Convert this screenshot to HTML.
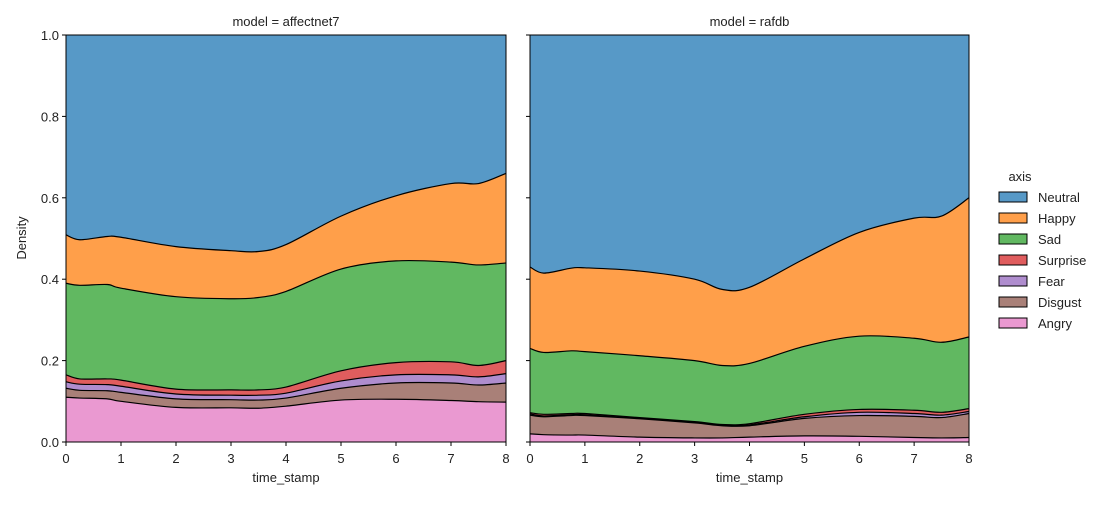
<!DOCTYPE html>
<html><head><meta charset="utf-8"><style>
body{margin:0;background:#fff;}
svg text{font-family:"Liberation Sans","DejaVu Sans",sans-serif;fill:#222;}
</style></head><body>
<svg id="fig" width="1107" height="500" xmlns="http://www.w3.org/2000/svg"></svg>
<script>
const categories=["Angry","Disgust","Fear","Surprise","Sad","Happy","Neutral"];
const xs=[0,0.25,0.75,1,2,3,3.5,4,5,6,7,7.5,8];
// upper edges of stacked layers (cumulative share) — affectnet7
const aAngry   =[0.110,0.108,0.106,0.100,0.085,0.084,0.083,0.088,0.103,0.105,0.102,0.099,0.098];
const aDisgust =[0.132,0.127,0.126,0.122,0.106,0.104,0.103,0.108,0.132,0.145,0.145,0.140,0.145];
const aFear    =[0.148,0.142,0.141,0.137,0.118,0.115,0.115,0.120,0.150,0.165,0.165,0.160,0.168];
const aSurprise=[0.165,0.155,0.155,0.152,0.130,0.128,0.128,0.135,0.175,0.195,0.197,0.188,0.200];
const aSad     =[0.390,0.385,0.387,0.378,0.357,0.352,0.355,0.370,0.425,0.445,0.442,0.435,0.440];
const aHappy   =[0.509,0.497,0.505,0.503,0.480,0.470,0.468,0.485,0.555,0.605,0.635,0.635,0.660];
// rafdb
const rAngry   =[0.020,0.018,0.017,0.017,0.012,0.010,0.010,0.012,0.015,0.014,0.011,0.010,0.011];
const rDisgust =[0.066,0.062,0.065,0.065,0.057,0.047,0.040,0.040,0.058,0.065,0.063,0.060,0.070];
const rFear    =[0.069,0.064,0.067,0.067,0.058,0.048,0.041,0.042,0.062,0.073,0.070,0.066,0.075];
const rSurprise=[0.072,0.068,0.070,0.070,0.060,0.050,0.043,0.045,0.068,0.080,0.078,0.073,0.082];
const rSad     =[0.230,0.220,0.224,0.222,0.212,0.200,0.188,0.193,0.235,0.260,0.255,0.245,0.258];
const rHappy   =[0.430,0.415,0.427,0.428,0.420,0.400,0.375,0.380,0.450,0.515,0.550,0.555,0.600];
const xTicks=[0,1,2,3,4,5,6,7,8];
const yTicks=[0,0.2,0.4,0.6,0.8,1.0];
const colors={Neutral:"#5799c7",Happy:"#ff9f4a",Sad:"#61b861",Surprise:"#e05d5e",Fear:"#af8dce",Disgust:"#a98078",Angry:"#ea99d1"};
const NS="http://www.w3.org/2000/svg";
const svg=document.getElementById("fig");
function mk(tag,attrs,parent){const e=document.createElementNS(NS,tag);for(const k in attrs)e.setAttribute(k,attrs[k]);(parent||svg).appendChild(e);return e;}
const Y0=442,Y1=35;
function ys(v){return Y0-(Y0-Y1)*v;}
function smooth(pts){let d="";for(let i=0;i<pts.length-1;i++){const p0=pts[Math.max(0,i-1)],p1=pts[i],p2=pts[i+1],p3=pts[Math.min(pts.length-1,i+2)];
const c1=[p1[0]+(p2[0]-p0[0])/6,p1[1]+(p2[1]-p0[1])/6],c2=[p2[0]-(p3[0]-p1[0])/6,p2[1]-(p3[1]-p1[1])/6];
d+=" C"+c1[0]+","+c1[1]+" "+c2[0]+","+c2[1]+" "+p2[0]+","+p2[1];}return d;}
function panel(x0,x1,title,series,showY){
  const xsc=v=>x0+(x1-x0)*v/8;
  const g=mk("g",{});
  
  
  const tops=[...series,xs.map(()=>1)];
  for(let i=categories.length-1;i>=0;i--){
    const top=tops[i].map((v,j)=>[xsc(xs[j]),ys(v)]);
    const bot=i===0?null:tops[i-1].map((v,j)=>[xsc(xs[j]),ys(v)]);
    let d="M"+top[0][0]+","+top[0][1]+smooth(top);
    if(bot){const rb=bot.slice().reverse();d+=" L"+rb[0][0]+","+rb[0][1]+smooth(rb);}
    else{d+=" L"+xsc(8)+","+Y0+" L"+xsc(0)+","+Y0;}
    d+=" Z";
    const p=mk("path",{d:d,fill:colors[categories[i]],stroke:"none"},g);
    
    
    if(i<categories.length-1){
      const l=mk("path",{d:"M"+top[0][0]+","+top[0][1]+smooth(top),fill:"none",stroke:"#000","stroke-width":1.2},g);
      
      
    }
  }
  const fr=mk("rect",{x:x0,y:Y1,width:x1-x0,height:Y0-Y1,fill:"none",stroke:"#000","stroke-width":1},g);
  
  
  xTicks.forEach(t=>{const x=xsc(t);mk("line",{x1:x,x2:x,y1:Y0,y2:Y0+4,stroke:"#000"},g);
    const tx=mk("text",{x:x,y:Y0+21,"text-anchor":"middle","font-size":13},g);tx.textContent=t;
    
    });
  yTicks.forEach(t=>{const y=ys(t);mk("line",{x1:x0-4,x2:x0,y1:y,y2:y,stroke:"#000"},g);
    if(showY){const tx=mk("text",{x:x0-7,y:y+5,"text-anchor":"end","font-size":13},g);tx.textContent=t.toFixed(1);
    
    }});
  const tt=mk("text",{x:(x0+x1)/2,y:26,"text-anchor":"middle","font-size":13},g);tt.textContent=title;
  
  
  const xl=mk("text",{x:(x0+x1)/2,y:482,"text-anchor":"middle","font-size":13},g);xl.textContent="time_stamp";
  
  
}
panel(66,506,"model = affectnet7",[aAngry,aDisgust,aFear,aSurprise,aSad,aHappy],true);
panel(530,969,"model = rafdb",[rAngry,rDisgust,rFear,rSurprise,rSad,rHappy],false);
const yl=mk("text",{x:0,y:0,transform:"translate(26,238) rotate(-90)","text-anchor":"middle","font-size":13});yl.textContent="Density";


const lg=mk("g",{});


const lt=mk("text",{x:1020,y:181,"text-anchor":"middle","font-size":13},lg);lt.textContent="axis";
const order=["Neutral","Happy","Sad","Surprise","Fear","Disgust","Angry"];
order.forEach((c,i)=>{const y=197+i*21;
  const e=mk("g",{},lg);
  
  
  mk("rect",{x:999,y:y-5,width:28,height:10,fill:colors[c],stroke:"#000","stroke-width":1},e);
  const t=mk("text",{x:1038,y:y+5,"font-size":13},e);t.textContent=c;});
</script>
</body></html>
